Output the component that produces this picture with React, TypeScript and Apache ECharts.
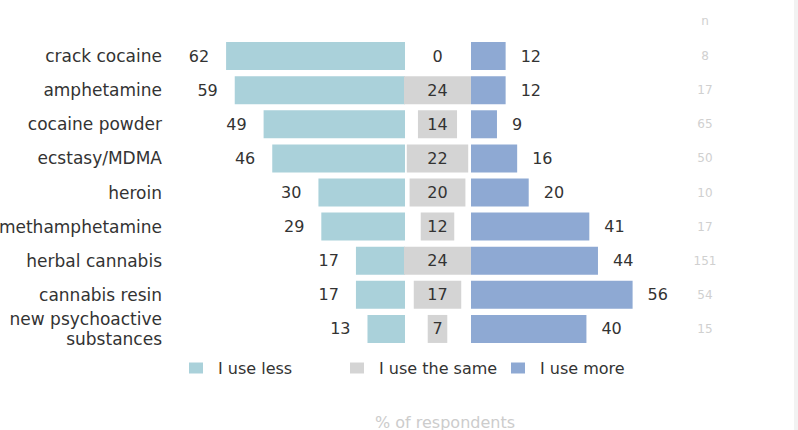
import React, { useEffect, useRef } from "react";
import * as echarts from "echarts";

const categories = [
  "crack cocaine",
  "amphetamine",
  "cocaine powder",
  "ecstasy/MDMA",
  "heroin",
  "methamphetamine",
  "herbal cannabis",
  "cannabis resin",
  "new psychoactive\nsubstances",
];
const useLess = [62, 59, 49, 46, 30, 29, 17, 17, 13];
const useSame = [0, 24, 14, 22, 20, 12, 24, 17, 7];
const useMore = [12, 12, 9, 16, 20, 41, 44, 56, 40];
const nRespondents = ["8", "17", "65", "50", "10", "17", "151", "54", "15"];
const seriesNames = ["I use less", "I use the same", "I use more"];
const colors = ["#aad1da", "#d4d4d4", "#8ea9d3"];

const FONT = "DejaVu Sans";
const sameMax = Math.max(...useSame);

export default function App() {
  const ref = useRef<HTMLDivElement>(null);
  useEffect(() => {
    if (!ref.current) return;
    const chart = echarts.init(ref.current, null, { renderer: "svg" });
    const top = 39;
    const height = 307;
    const valueLabel = { fontSize: 16, color: "#333", fontFamily: FONT };
    chart.setOption({
      animation: false,
      backgroundColor: "#ffffff",
      grid: [
        { left: 203, width: 202, top, height, outerBoundsMode: "none", containLabel: false },
        { left: 404, width: 67, top, height, outerBoundsMode: "none", containLabel: false },
        { left: 471, width: 202, top, height, outerBoundsMode: "none", containLabel: false },
      ],
      xAxis: [
        { gridIndex: 0, type: "value", min: 0, max: 70, inverse: true, show: false },
        { gridIndex: 1, type: "value", min: 0, max: sameMax, show: false },
        { gridIndex: 2, type: "value", min: 0, max: 70, show: false },
      ],
      yAxis: [
        {
          gridIndex: 0,
          type: "category",
          data: categories,
          inverse: true,
          axisLine: { show: false },
          axisTick: { show: false },
          axisLabel: {
            margin: 41,
            fontSize: 17,
            lineHeight: 20,
            color: "#333",
            fontFamily: FONT,
            align: "right",
          },
        },
        { gridIndex: 1, type: "category", data: categories, inverse: true, show: false },
        { gridIndex: 2, type: "category", data: categories, inverse: true, show: false },
        {
          gridIndex: 2,
          type: "category",
          data: nRespondents,
          inverse: true,
          position: "right",
          axisLine: { show: false },
          axisTick: { show: false },
          axisLabel: {
            margin: 32,
            align: "center",
            fontSize: 12,
            color: "#d0d0d0",
            fontFamily: FONT,
          },
        },
      ],
      legend: seriesNames.map((name, i) => ({
        data: [name],
        left: [189, 350, 511][i],
        top: 360,
        padding: 0,
        icon: "rect",
        itemWidth: 14,
        itemHeight: 11,
        selectedMode: false,
        textStyle: { fontSize: 16, color: "#333", fontFamily: FONT, padding: [0, 0, 0, 10] },
      })),
      series: [
        {
          name: seriesNames[0],
          type: "bar",
          xAxisIndex: 0,
          yAxisIndex: 0,
          data: useLess,
          barWidth: 28,
          itemStyle: { color: colors[0] },
          label: { show: true, position: "left", distance: 17, ...valueLabel },
        },
        {
          name: "offset",
          type: "bar",
          xAxisIndex: 1,
          yAxisIndex: 1,
          stack: "same",
          data: useSame.map((v) => (sameMax - v) / 2),
          barWidth: 28,
          itemStyle: { color: "transparent" },
          silent: true,
          label: { show: false },
        },
        {
          name: seriesNames[1],
          type: "bar",
          xAxisIndex: 1,
          yAxisIndex: 1,
          stack: "same",
          data: useSame,
          barWidth: 28,
          itemStyle: { color: colors[1] },
          label: { show: true, position: "inside", ...valueLabel },
        },
        {
          name: seriesNames[2],
          type: "bar",
          xAxisIndex: 2,
          yAxisIndex: 2,
          data: useMore,
          barWidth: 28,
          itemStyle: { color: colors[2] },
          label: { show: true, position: "right", distance: 15, ...valueLabel },
        },
      ],
      graphic: [
        {
          type: "text",
          x: 705,
          y: 21,
          style: {
            text: "n",
            fill: "#d0d0d0",
            fontSize: 12,
            fontFamily: FONT,
            textAlign: "center",
            textVerticalAlign: "middle",
          },
        },
        {
          type: "text",
          x: 445,
          y: 422,
          style: {
            text: "% of respondents",
            fill: "#cccccc",
            fontSize: 16,
            fontFamily: FONT,
            textAlign: "center",
            textVerticalAlign: "middle",
          },
        },
        {
          type: "rect",
          shape: { x: 794, y: 0, width: 4, height: 430 },
          style: { fill: "#f2f2f2" },
        },
      ],
    });
    return () => chart.dispose();
  }, []);
  return (
    <div
      ref={ref}
      style={{ position: "fixed", left: 0, top: 0, width: 798, height: 430 }}
    />
  );
}
